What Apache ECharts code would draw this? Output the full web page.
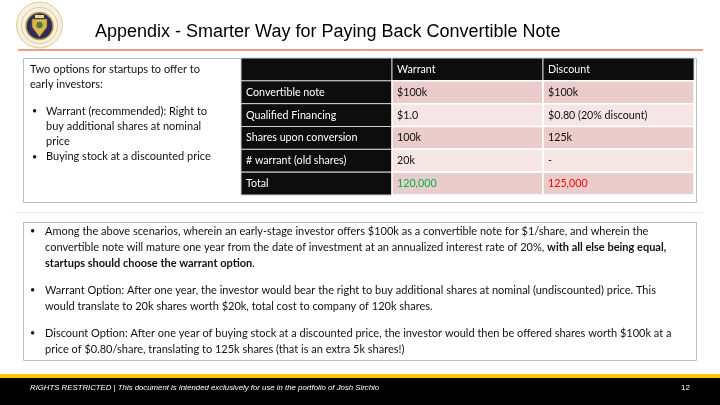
<!DOCTYPE html>
<html><head><meta charset="utf-8">
<script src="https://cdn.jsdelivr.net/npm/echarts@6/dist/echarts.min.js"></script>
<style>html,body{margin:0;padding:0;background:#fff}#c{width:720px;height:405px}</style>
</head><body><div id="c"></div>
<script>
const titleText = 'Appendix - Smarter Way for Paying Back Convertible Note';
const columns = ['', 'Warrant', 'Discount'];
const rowLabels = ['Convertible note', 'Qualified Financing', 'Shares upon conversion', '# warrant (old shares)', 'Total'];
const warrantValues = ['$100k', '$1.0', '100k', '20k', '120,000'];
const discountValues = ['$100k', '$0.80 (20% discount)', '125k', '-', '125,000'];
const introLines = ['Two options for startups to offer to', 'early investors:'];
const introBullets = [['Warrant (recommended): Right to', 'buy additional shares at nominal', 'price'], ['Buying stock at a discounted price']];
const notes = [
  ['Among the above scenarios, wherein an early-stage investor offers $100k as a convertible note for $1/share, and wherein the',
   'convertible note will mature one year from the date of investment at an annualized interest rate of 20%, {b|with all else being equal,}',
   '{b|startups should choose the warrant option}.'],
  ['Warrant Option: After one year, the investor would bear the right to buy additional shares at nominal (undiscounted) price. This',
   'would translate to 20k shares worth $20k, total cost to company of 120k shares.'],
  ['Discount Option: After one year of buying stock at a discounted price, the investor would then be offered shares worth $100k at a',
   'price of $0.80/share, translating to 125k shares (that is an extra 5k shares!)']
];
const footerText = 'RIGHTS RESTRICTED | This document is intended exclusively for use in the portfolio of Josh Sirchio';
const pageNumber = '12';

const FONT = 'Lato, "Open Sans", sans-serif';
const rowsAll = ['header'].concat(rowLabels);
const cells = [];
columns.forEach((c, ci) => { cells.push([ci, 0, c]); });
rowLabels.forEach((r, ri) => {
  cells.push([0, ri + 1, r]);
  cells.push([1, ri + 1, warrantValues[ri]]);
  cells.push([2, ri + 1, discountValues[ri]]);
});

const chart = echarts.init(document.getElementById('c'), null, {renderer: 'canvas'});

const g = [];
// logo
g.push({type: 'circle', shape: {cx: 39.5, cy: 25, r: 23}, style: {fill: '#f7f0de', stroke: '#dccb96', lineWidth: 1}});
g.push({type: 'circle', shape: {cx: 39.5, cy: 25.5, r: 18}, style: {fill: 'none', stroke: '#c8b27a', lineWidth: 0.6}});
g.push({type: 'circle', shape: {cx: 39.5, cy: 26, r: 13.5}, style: {fill: '#2a2d5c', stroke: '#b89a45', lineWidth: 1.5}});
g.push({type: 'polygon', shape: {points: [[32, 19], [47, 19], [47, 27], [39.5, 37], [32, 27]]}, style: {fill: '#dcb64c', stroke: '#7d5f18', lineWidth: 0.7}});
g.push({type: 'circle', shape: {cx: 39.5, cy: 25, r: 3.2}, style: {fill: '#4a7d3c'}});
g.push({type: 'rect', shape: {x: 35, y: 15, width: 9, height: 3}, style: {fill: '#e6d7a6'}});
// title
g.push({type: 'text', style: {text: titleText, x: 95, y: 32, verticalAlign: 'middle', fill: '#000', fontSize: 18, fontFamily: '"Liberation Sans", Arial, sans-serif'}});
g.push({type: 'line', shape: {x1: 18, y1: 50, x2: 703, y2: 50}, style: {stroke: '#d2421a', lineWidth: 1}});
// top box
g.push({type: 'rect', shape: {x: 23.5, y: 58.5, width: 673, height: 144}, style: {fill: 'none', stroke: '#bfbfbf', lineWidth: 1}});
introLines.forEach((t, i) => g.push({type: 'text', style: {text: t, x: 30, y: 69 + i * 15, verticalAlign: 'middle', fill: '#111', fontSize: 11, fontFamily: FONT}}));
let yy = 111;
introBullets.forEach(b => {
  g.push({type: 'text', style: {text: '•', x: 32, y: yy, verticalAlign: 'middle', fill: '#111', fontSize: 9, fontFamily: FONT}});
  b.forEach(t => { g.push({type: 'text', style: {text: t, x: 46, y: yy, verticalAlign: 'middle', fill: '#111', fontSize: 11, fontFamily: FONT}}); yy += 15.3; });
});
// separator
g.push({type: 'line', shape: {x1: 15, y1: 212.5, x2: 703, y2: 212.5}, style: {stroke: '#ececec', lineWidth: 1}});
// bottom box
g.push({type: 'rect', shape: {x: 23.5, y: 222.5, width: 673, height: 138}, style: {fill: 'none', stroke: '#bfbfbf', lineWidth: 1}});
let ny = 231;
notes.forEach((para, pi) => {
  g.push({type: 'text', style: {text: '•', x: 30, y: ny, verticalAlign: 'middle', fill: '#111', fontSize: 9, fontFamily: FONT}});
  para.forEach(t => {
    g.push({type: 'text', style: {text: t, x: 45, y: ny, verticalAlign: 'middle', fill: '#111', fontSize: 11, fontFamily: FONT,
      rich: {b: {fontWeight: 'bold', fontSize: 11, fontFamily: FONT, fill: '#111'}}}});
    ny += 16;
  });
  ny += 11;
});
// footer
g.push({type: 'rect', shape: {x: 0, y: 374, width: 720, height: 4}, style: {fill: '#ffcc00'}});
g.push({type: 'rect', shape: {x: 0, y: 378, width: 720, height: 27}, style: {fill: '#000'}});
g.push({type: 'text', style: {text: footerText, x: 30, y: 388, verticalAlign: 'middle', fill: '#fff', fontSize: 7.8, fontStyle: 'italic', fontFamily: '"Liberation Sans Narrow", "Liberation Sans", Arial, sans-serif'}});
g.push({type: 'text', style: {text: pageNumber, x: 690, y: 388, align: 'right', verticalAlign: 'middle', fill: '#fff', fontSize: 8, fontFamily: '"Liberation Sans Narrow", "Liberation Sans", Arial, sans-serif'}});

chart.setOption({
  animation: false,
  grid: {left: 241, top: 58, width: 453, height: 137},
  xAxis: {type: 'category', data: columns, show: false},
  yAxis: {type: 'category', data: rowsAll, inverse: true, show: false},
  graphic: g,
  series: [{
    type: 'custom',
    data: cells.map(c => [c[0], c[1]]),
    renderItem: function (params, api) {
      const cell = cells[params.dataIndex];
      const ci = cell[0], ri = cell[1];
      const p = api.coord([ci, ri]);
      const s = api.size([1, 1]);
      const x = p[0] - s[0] / 2, y = p[1] - s[1] / 2;
      const dark = ci === 0 || ri === 0;
      let fill = dark ? '#0d0d0d' : (ri % 2 === 1 ? '#eacdca' : '#f5e6e5');
      let tc = dark ? '#ffffff' : '#111111';
      if (ri === rowsAll.length - 1 && ci === 1) tc = '#00b050';
      if (ri === rowsAll.length - 1 && ci === 2) tc = '#ff0000';
      return {type: 'group', children: [
        {type: 'rect', shape: {x: x, y: y, width: s[0], height: s[1]}, style: {fill: fill, stroke: dark ? '#cfcfcf' : '#ffffff', lineWidth: dark ? 1 : 1.5}},
        {type: 'text', style: {text: cell[2], x: x + 5, y: p[1], verticalAlign: 'middle', fill: tc, fontSize: 10.7, fontFamily: FONT}}
      ]};
    }
  }]
});
</script></body></html>
